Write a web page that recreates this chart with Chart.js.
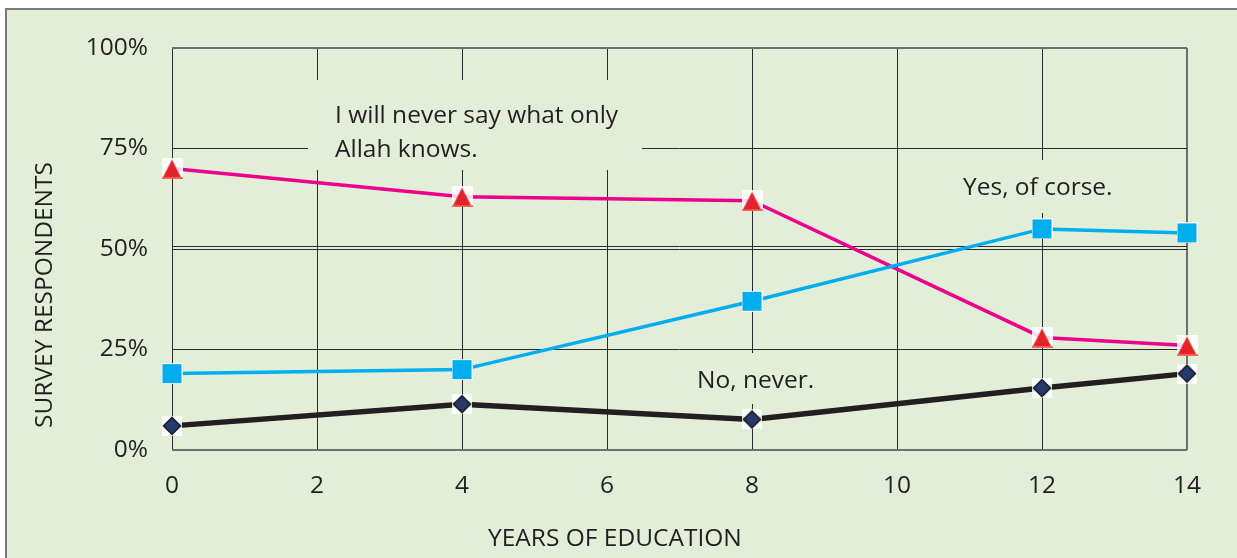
<!DOCTYPE html>
<html>
<head>
<meta charset="utf-8">
<script src="https://cdn.jsdelivr.net/npm/chart.js@4"></script>
<style>
  html, body { margin: 0; padding: 0; background: #fff; }
  #wrap { width: 1237px; height: 558px; }
</style>
</head>
<body>
<div id="wrap"><canvas id="chart" width="1237" height="558"></canvas></div>
<script>
// years of schooling
var years = [0, 4, 8, 12, 14];
// share of respondents per answer, %
var yesOfCourse = [19, 20, 37, 55, 54];
var onlyAllahKnows = [70, 63, 62, 28, 26];
var noNever = [6, 11.4, 7.6, 15.4, 19];
var yTicks = [0, 25, 50, 75, 100];

var FONT = '"Open Sans", "Noto Sans", sans-serif';
var INK = '#231f20';
var PANEL = '#e2eed8';

function pairs(vals) {
    return years.map(function(x, i) { return {x: x, y: vals[i]}; });
}

// marker sprites: each sits on a little pale square, like the original artwork
function sprite(size, drawShape) {
    var c = document.createElement('canvas');
    c.width = size; c.height = size;
    var g = c.getContext('2d');
    g.fillStyle = 'rgba(255,255,255,0.85)';
    g.fillRect(0, 0, size, size);
    drawShape(g, size);
    return c;
}
var triangle = sprite(21, function(g, s) {
    g.fillStyle = '#e3232b';
    g.beginPath();
    g.moveTo(s / 2, 1.5); g.lineTo(s - 1.5, s - 2); g.lineTo(1.5, s - 2);
    g.closePath(); g.fill();
    g.fillStyle = '#f0645a';
    g.fillRect(0, s - 2, s, 2);
});
var square = sprite(21, function(g, s) {
    g.fillStyle = '#00adee';
    g.fillRect(1, 1, s - 2, s - 2);
});
var diamond = sprite(20, function(g, s) {
    g.fillStyle = '#26396b';
    g.strokeStyle = '#141823';
    g.lineWidth = 1.5;
    g.beginPath();
    g.moveTo(s / 2, 1.5); g.lineTo(s - 1.5, s / 2); g.lineTo(s / 2, s - 1.5); g.lineTo(1.5, s / 2);
    g.closePath(); g.fill(); g.stroke();
});

var notes = [
    {lines: ['I will never say what only', 'Allah knows.'], box: [308, 80, 334, 90], x: 335, y: 123, lh: 34},
    {lines: ['Yes, of corse.'], box: [915, 160, 245, 53], x: 963, y: 195, lh: 34},
    {lines: ['No, never.'], box: [680, 353, 150, 51], x: 697, y: 388, lh: 34}
];

var backdrop = {
    id: 'backdrop',
    beforeDraw: function(chart) {
        var ctx = chart.ctx;
        ctx.save();
        ctx.fillStyle = '#fff';
        ctx.fillRect(0, 0, chart.width, chart.height);
        ctx.fillStyle = PANEL;
        ctx.fillRect(6, 9, chart.width - 6, chart.height - 9);
        ctx.strokeStyle = '#7a7a7a';
        ctx.lineWidth = 2;
        ctx.beginPath();
        ctx.moveTo(6, chart.height); ctx.lineTo(6, 9); ctx.lineTo(chart.width, 9);
        ctx.stroke();
        ctx.restore();
    },
    beforeDatasetsDraw: function(chart) {
        var ctx = chart.ctx;
        var ys = chart.scales.y, area = chart.chartArea;
        ctx.save();
        // the 50% rule is printed doubled
        var y50 = Math.round(ys.getPixelForValue(50)) - 2.5;
        ctx.strokeStyle = '#2b2b2b';
        ctx.lineWidth = 1;
        ctx.beginPath(); ctx.moveTo(area.left, y50); ctx.lineTo(area.right, y50); ctx.stroke();

        ctx.font = '24.5px ' + FONT;
        ctx.textBaseline = 'alphabetic';
        notes.forEach(function(n) {
            ctx.fillStyle = PANEL;
            ctx.fillRect(n.box[0], n.box[1], n.box[2], n.box[3]);
            ctx.fillStyle = INK;
            n.lines.forEach(function(t, i) { ctx.fillText(t, n.x, n.y + i * n.lh); });
        });

        // axis titles
        ctx.fillText('YEARS OF EDUCATION', 488, 546);
        ctx.translate(52, 295);
        ctx.rotate(-Math.PI / 2);
        ctx.textAlign = 'center';
        ctx.fillText('SURVEY RESPONDENTS', 0, 0);
        ctx.restore();
    }
};

new Chart(document.getElementById('chart').getContext('2d'), {
    type: 'line',
    data: {
        datasets: [{
            label: 'Yes, of corse.',
            data: pairs(yesOfCourse),
            borderColor: '#00aeef',
            borderWidth: 3.5,
            pointStyle: square,
            clip: false
        }, {
            label: 'I will never say what only Allah knows.',
            data: pairs(onlyAllahKnows),
            borderColor: '#ec008c',
            borderWidth: 3.5,
            pointStyle: triangle,
            clip: false
        }, {
            label: 'No, never.',
            data: pairs(noNever),
            borderColor: INK,
            borderWidth: 5.5,
            pointStyle: diamond,
            clip: false
        }]
    },
    options: {
        responsive: false,
        animation: false,
        devicePixelRatio: 1,
        layout: { padding: { top: 48, right: 50, left: 0, bottom: 0 } },
        elements: { line: { tension: 0, fill: false } },
        scales: {
            x: {
                type: 'linear',
                min: 0,
                max: 14,
                afterFit: function(scale) { scale.height = 108; },
                border: { display: false },
                grid: {
                    drawTicks: false,
                    color: function(c) { return c.tick.value === 14 ? '#6f6f6f' : '#2b2b2b'; },
                    lineWidth: function(c) { return c.tick.value === 14 ? 2 : 1; }
                },
                ticks: {
                    stepSize: 2,
                    padding: 21,
                    color: INK,
                    font: { family: FONT, size: 24.5 }
                }
            },
            y: {
                min: 0,
                max: 100,
                afterFit: function(scale) { scale.width = 172; },
                afterBuildTicks: function(scale) {
                    scale.ticks = yTicks.map(function(v) { return {value: v}; });
                },
                border: { display: false },
                grid: {
                    drawTicks: false,
                    color: function(c) {
                        var v = c.tick.value;
                        return (v === 0 || v === 100) ? '#6f6f6f' : '#2b2b2b';
                    },
                    lineWidth: function(c) {
                        var v = c.tick.value;
                        return (v === 0 || v === 100) ? 2 : 1;
                    }
                },
                ticks: {
                    padding: 24,
                    color: INK,
                    font: { family: FONT, size: 24.5 },
                    callback: function(v) { return v + '%'; }
                }
            }
        },
        plugins: {
            legend: { display: false },
            tooltip: { enabled: false }
        }
    },
    plugins: [backdrop]
});
</script>
</body>
</html>
